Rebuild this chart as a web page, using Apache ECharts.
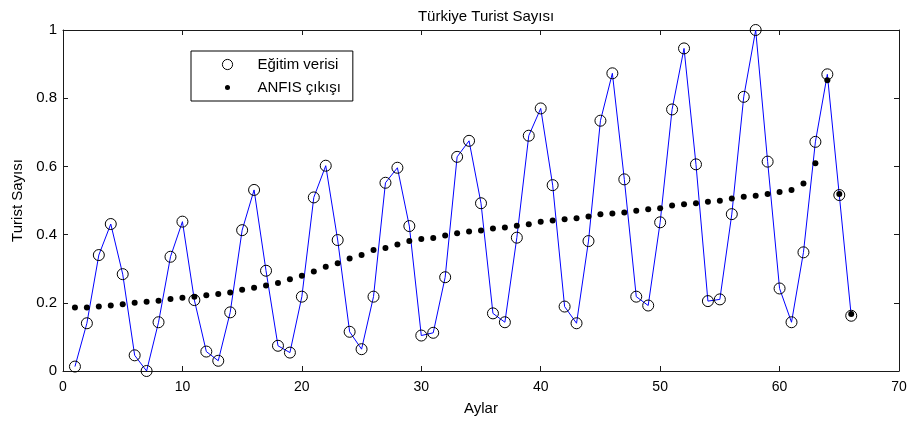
<!DOCTYPE html>
<html>
<head>
<meta charset="utf-8">
<script src="https://cdn.jsdelivr.net/npm/echarts@6/dist/echarts.min.js"></script>
<style>
  html, body { margin: 0; padding: 0; background: #fff; }
  #chart { width: 909px; height: 423px; }
</style>
</head>
<body>
<div id="chart"></div>
<script>
// Month index (Aylar)
const months = [];
for (let i = 1; i <= 66; i++) months.push(i);

// Normalised tourist counts used for training
const trainingData = [
  0.013, 0.140, 0.340, 0.431, 0.284, 0.046, 0.000, 0.143, 0.335, 0.438,
  0.208, 0.057, 0.030, 0.172, 0.413, 0.531, 0.294, 0.074, 0.054, 0.218,
  0.509, 0.602, 0.384, 0.115, 0.064, 0.218, 0.552, 0.596, 0.425, 0.104,
  0.112, 0.275, 0.628, 0.675, 0.492, 0.169, 0.143, 0.391, 0.690, 0.770,
  0.545, 0.189, 0.140, 0.381, 0.734, 0.873, 0.562, 0.218, 0.192, 0.436,
  0.767, 0.946, 0.606, 0.205, 0.210, 0.460, 0.804, 1.000, 0.614, 0.242,
  0.143, 0.348, 0.672, 0.870, 0.516, 0.162
];

// ANFIS model output
const anfisOutput = [
  0.186, 0.186, 0.189, 0.192, 0.196, 0.200, 0.203, 0.206, 0.211, 0.215,
  0.218, 0.222, 0.226, 0.230, 0.238, 0.244, 0.251, 0.258, 0.269, 0.279,
  0.292, 0.306, 0.316, 0.330, 0.340, 0.355, 0.361, 0.371, 0.381, 0.387,
  0.390, 0.397, 0.404, 0.409, 0.412, 0.418, 0.421, 0.426, 0.430, 0.438,
  0.441, 0.445, 0.448, 0.453, 0.460, 0.462, 0.465, 0.470, 0.474, 0.477,
  0.485, 0.489, 0.492, 0.496, 0.499, 0.506, 0.511, 0.514, 0.519, 0.525,
  0.531, 0.550, 0.609, 0.853, 0.519, 0.167
];

const xTicks = [0, 10, 20, 30, 40, 50, 60, 70];
const yTicks = [0, 0.2, 0.4, 0.6, 0.8, 1];

const pair = (ys) => months.map((m, i) => [m, ys[i]]);

const font = 'Arial, "Liberation Sans", sans-serif';
const axisColor = '#1a1a1a';
const fs = 15;

// legend icons drawn inside a fixed 20x20 box so their sizes stay independent
const boxCorners = 'M10,0L10,0M10,20L10,20M0,10L0,10M20,10L20,10';
const ringIcon = 'path://' + boxCorners + 'M10,1.5A8.5,8.5 0 1,1 10,18.5A8.5,8.5 0 1,1 10,1.5Z';
const dotIcon = 'path://' + boxCorners + 'M10,5.8A4.2,4.2 0 1,1 10,14.2A4.2,4.2 0 1,1 10,5.8Z';

const chart = echarts.init(document.getElementById('chart'), null, { renderer: 'canvas' });

const baseAxis = {
  type: 'value',
  axisLine: { show: true, onZero: false, lineStyle: { color: axisColor, width: 1 } },
  axisTick: { show: true, inside: true, length: 5, lineStyle: { color: axisColor } },
  splitLine: { show: false },
  axisLabel: { color: '#000', fontFamily: font, fontSize: fs }
};

chart.setOption({
  animation: false,
  backgroundColor: '#fff',
  title: {
    text: 'Türkiye Turist Sayısı',
    left: 481,
    textAlign: 'center',
    top: 4,
    textStyle: { fontFamily: font, fontSize: fs, fontWeight: 'normal', color: '#000' }
  },
  legend: {
    orient: 'vertical',
    left: 191,
    top: 51,
    padding: [6, 12, 6, 30],
    itemGap: 8,
    itemWidth: 12,
    itemHeight: 12,
    borderColor: '#000',
    borderWidth: 1,
    backgroundColor: '#fff',
    textStyle: { fontFamily: font, fontSize: fs, color: '#000', padding: [0, 0, 0, 19] },
    data: [
      { name: 'Eğitim verisi', icon: ringIcon,
        itemStyle: { color: 'transparent', borderColor: '#000', borderWidth: 1, opacity: 1 } },
      { name: 'ANFIS çıkışı', icon: dotIcon, itemStyle: { color: '#000', opacity: 1 } }
    ]
  },
  grid: { left: 63, right: 10, top: 30, bottom: 52, containLabel: false, outerBoundsMode: 'none' },
  xAxis: [
    Object.assign({}, baseAxis, {
      position: 'bottom',
      min: xTicks[0], max: xTicks[xTicks.length - 1], interval: 10,
      name: 'Aylar', nameLocation: 'middle', nameGap: 30,
      nameTextStyle: { fontFamily: font, fontSize: fs, color: '#000' },
      axisLabel: { color: '#000', fontFamily: font, fontSize: 14, margin: 9 }
    }),
    Object.assign({}, baseAxis, {
      position: 'top',
      min: xTicks[0], max: xTicks[xTicks.length - 1], interval: 10,
      axisLabel: { show: false }
    })
  ],
  yAxis: [
    Object.assign({}, baseAxis, {
      position: 'left',
      min: yTicks[0], max: yTicks[yTicks.length - 1], interval: 0.2,
      name: 'Turist Sayısı', nameLocation: 'middle', nameGap: 36,
      nameTextStyle: { fontFamily: font, fontSize: fs, color: '#000' },
      axisLabel: {
        color: '#000', fontFamily: font, fontSize: fs, margin: 6,
        formatter: (v) => String(Math.round(v * 10) / 10)
      }
    }),
    Object.assign({}, baseAxis, {
      position: 'right',
      min: yTicks[0], max: yTicks[yTicks.length - 1], interval: 0.2,
      axisLabel: { show: false }
    })
  ],
  series: [
    {
      name: 'trainingLine',
      type: 'line',
      data: pair(trainingData),
      showSymbol: false,
      symbol: 'none',
      lineStyle: { color: '#0000ff', width: 1 },
      z: 2,
      silent: true
    },
    {
      name: 'Eğitim verisi',
      type: 'scatter',
      data: pair(trainingData),
      symbol: 'circle',
      symbolSize: 11,
      itemStyle: { color: 'transparent', borderColor: '#000', borderWidth: 1, opacity: 1 },
      z: 4
    },
    {
      name: 'ANFIS çıkışı',
      type: 'scatter',
      data: pair(anfisOutput),
      symbol: 'circle',
      symbolSize: 6,
      itemStyle: { color: '#000', opacity: 1 },
      z: 3
    }
  ]
});
</script>
</body>
</html>
